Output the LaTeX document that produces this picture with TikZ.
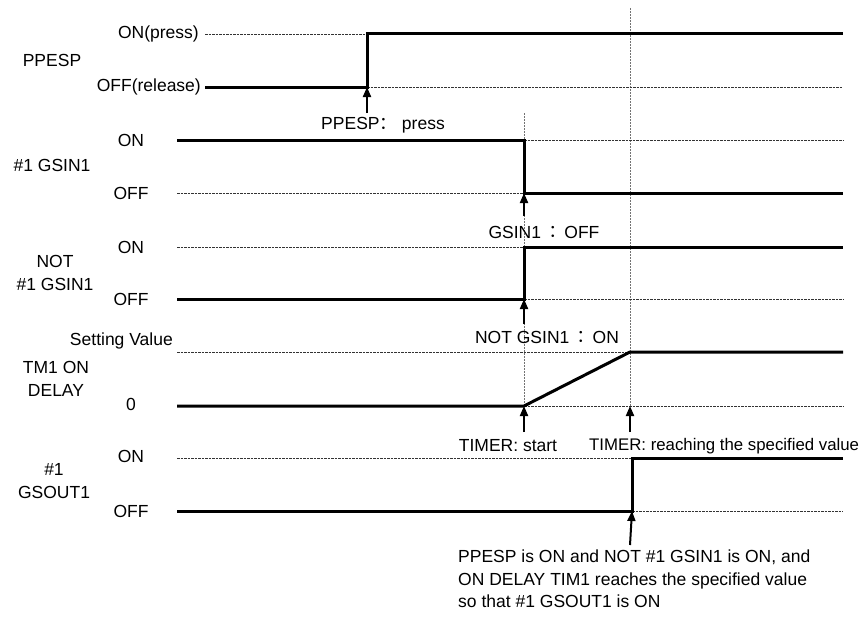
\documentclass[tikz,border=0pt]{standalone}
\usepackage{fontspec}
\setmainfont{Liberation Sans}
\newfontfamily\cjk{Noto Sans CJK SC}
\newfontfamily\cjkc{Noto Sans CJK JP}
\usetikzlibrary{positioning,arrows.meta,calc}
\newcommand{\fwc}{{\cjk ：}}
\newcommand{\cfwc}{{\cjkc ：}}

\begin{document}
\begin{tikzpicture}[x=1pt,y=-1pt,
  font=\fontsize{17.5}{22.5}\selectfont,
  >={Triangle[length=10pt,width=8pt]},
  sig/.style={line width=3pt},
  guide/.style={line width=0.6pt,black!80,dash pattern=on 2.5pt off 1pt},
  vguide/.style={line width=0.8pt,black!55,dash pattern=on 2pt off 1pt},
  evarrow/.style={->,line width=2pt},
  lvl/.style={inner sep=0pt},
  sname/.style={align=center,inner sep=0pt},
]
\useasboundingbox (0,0) rectangle (866,618);

% vertical marks
\coordinate (vPt) at (524,113); \coordinate (vPb) at (524,406);
\coordinate (vRt) at (630,8);   \coordinate (vRb) at (630,406);
\draw[vguide] (vPt) -- (vPb);
\draw[vguide] (vRt) -- (vRb);

% PPESP
\node[sname] (Pname) at (52,60) {PPESP};
\node[lvl,anchor=east] (Pon) at (199,34) {ON(press)};
\node[lvl,anchor=east] (Poff) at (201,87) {OFF(release)};
\coordinate (Ps) at (205,87); \coordinate (Pu) at (367,87);
\coordinate (Pt) at (367,34); \coordinate (Pe) at (843,34);
\coordinate (Pg1) at (205,34); \coordinate (Pg2) at (843,87);
\draw[guide] (Pg1) -- (Pt);
\draw[guide] (Pu) -- (Pg2);
\draw[sig] (Ps) -- (Pu) -- (Pt) -- (Pe);
\coordinate (Pa) at (367,113);
\draw[evarrow] (Pa) -- (Pu);
\node (Pev) at (383,125) {PPESP\fwc{} press};

% #1 GSIN1
\node[sname] (Gname) at (52,165) {\#1 GSIN1};
\node[lvl] (Gon) at (131,140) {ON};
\node[lvl] (Goff) at (131,193) {OFF};
\coordinate (Gs) at (177,140); \coordinate (Gu) at (524,140);
\coordinate (Gd) at (524,193); \coordinate (Ge) at (843,193);
\coordinate (Gg1) at (177,193); \coordinate (Gg2) at (843,140);
\draw[guide] (Gg1) -- (Gd);
\draw[guide] (Gu) -- (Gg2);
\draw[sig] (Gs) -- (Gu) -- (Gd) -- (Ge);
\coordinate (Ga) at (524,216);
\draw[evarrow] (Ga) -- (Gd);
\node (Gev) at (544,232) {GSIN1\,\cfwc\,OFF};

% NOT #1 GSIN1
\node[sname] (Nname) at (55,273) {NOT\\\#1 GSIN1};
\node[lvl] (Non) at (131,247) {ON};
\node[lvl] (Noff) at (131,299) {OFF};
\coordinate (Ns) at (177,299); \coordinate (Nu) at (524,299);
\coordinate (Nt) at (524,247); \coordinate (Ne) at (843,247);
\coordinate (Ng1) at (177,247); \coordinate (Ng2) at (843,299);
\draw[guide] (Ng1) -- (Nt);
\draw[guide] (Nu) -- (Ng2);
\draw[sig] (Ns) -- (Nu) -- (Nt) -- (Ne);
\coordinate (Na) at (524,324);
\draw[evarrow] (Na) -- (Nu);
\node (Nev) at (547,337) {NOT GSIN1\,\cfwc\,ON};

% TM1 ON DELAY
\node[sname] (Tname) at (56,379) {TM1 ON\\DELAY};
\node[lvl,anchor=east] (Tset) at (173,341) {Setting Value};
\node[lvl] (Tzero) at (131,404) {0};
\coordinate (Ts) at (177,406); \coordinate (Tu) at (524,406);
\coordinate (Tr) at (630,352); \coordinate (Te) at (843,352);
\coordinate (Tg1) at (177,352); \coordinate (Tg2) at (843,406);
\draw[guide] (Tg1) -- (Tr);
\draw[guide] (Tu) -- (Tg2);
\draw[sig] (Ts) -- (Tu) -- (Tr) -- (Te);
\coordinate (Ta1) at (524,432); \coordinate (Ta2) at (630,432);
\coordinate (Tf) at (630,406);
\draw[evarrow] (Ta1) -- (Tu);
\draw[evarrow] (Ta2) -- (Tf);
\node (Tev1) at (508,446) {TIMER: start};
\node[anchor=west,inner sep=0pt,font=\fontsize{16.8}{20}\selectfont] (Tev2) at (589,446) {TIMER: reaching the specified value};

% #1 GSOUT1
\node[sname] (Oname) at (54,481) {\#1\\GSOUT1};
\node[lvl] (Oon) at (131,456) {ON};
\node[lvl] (Ooff) at (131,511) {OFF};
\coordinate (Os) at (177,511); \coordinate (Ou) at (632,511);
\coordinate (Ot) at (632,458); \coordinate (Oe) at (843,458);
\coordinate (Og1) at (177,458); \coordinate (Og2) at (843,511);
\draw[guide] (Og1) -- (Ot);
\draw[guide] (Ou) -- (Og2);
\draw[sig] (Os) -- (Ou) -- (Ot) -- (Oe);
\coordinate (Oa) at (630,545);
\draw[evarrow] (Oa) -- (Ou);
\node[anchor=north west,align=left,inner sep=0pt] (Onote) at (458,550)
  {PPESP is ON and NOT \#1 GSIN1 is ON, and\\
   ON DELAY TIM1 reaches the specified value\\
   so that \#1 GSOUT1 is ON};
\end{tikzpicture}
\end{document}
